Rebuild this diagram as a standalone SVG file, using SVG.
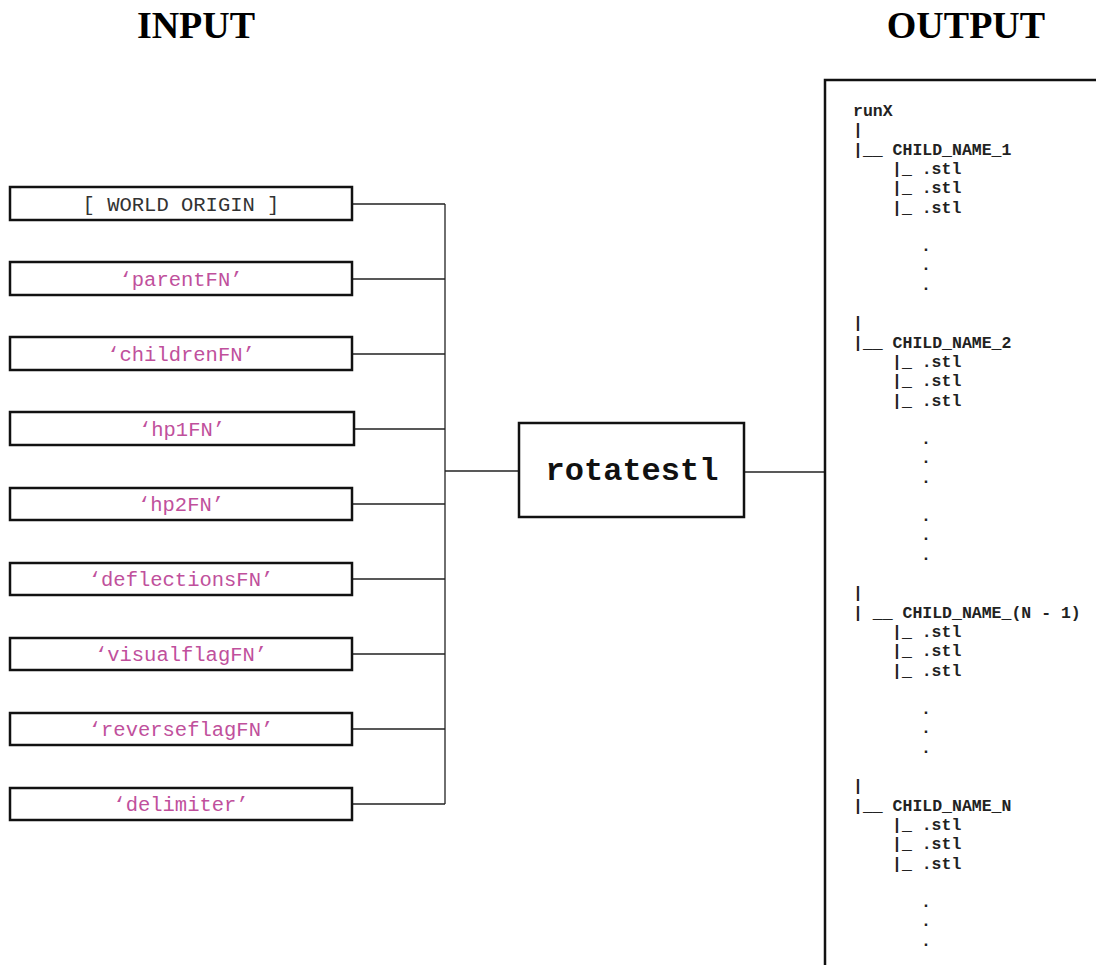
<svg xmlns="http://www.w3.org/2000/svg" width="1096" height="965" viewBox="0 0 1096 965">
  <style>
    .title { font-family: "Liberation Serif", "Times New Roman", serif; font-weight: bold; font-size: 38px; fill: #000; text-anchor: middle; }
    .box { fill: #fff; stroke: #111; stroke-width: 2.5; }
    .arg { font-family: "Liberation Mono", "Courier New", monospace; font-size: 20.5px; fill: #c0509c; text-anchor: middle; }
    .origin { fill: #333; }
    .fn { font-family: "Liberation Mono", "Courier New", monospace; font-weight: bold; font-size: 32px; fill: #111; text-anchor: middle; }
    .wire { fill: none; stroke: #222; stroke-width: 1.3; }
    .tree { font-family: "Liberation Mono", "Courier New", monospace; font-weight: bold; font-size: 16.5px; fill: #222; }
  </style>

  <rect width="1096" height="965" fill="#fff"/>

  <text class="title" x="196" y="38">INPUT</text>
  <text class="title" x="966" y="38">OUTPUT</text>

  <!-- wiring from the arguments into the function and on to the output -->
  <g id="connectors">
    <path class="wire" d="M352 204H445M352 279H445M352 354H445M354 429H445M352 504H445M352 579H445M352 654H445M352 729H445M352 804H445"/>
    <path class="wire" d="M445 204V804"/>
    <path class="wire" d="M445 471H519"/>
    <path class="wire" d="M744 472H825"/>
  </g>

  <!-- input arguments -->
  <g id="arg-origin"><rect class="box" x="10" y="187" width="342" height="33"/><text class="arg origin" x="181" y="211">[ WORLD ORIGIN ]</text></g>
  <g id="arg-parentFN"><rect class="box" x="10" y="262" width="342" height="33"/><text class="arg" x="181" y="286">‘parentFN’</text></g>
  <g id="arg-childrenFN"><rect class="box" x="10" y="337" width="342" height="33"/><text class="arg" x="181" y="361">‘childrenFN’</text></g>
  <g id="arg-hp1FN"><rect class="box" x="10" y="412" width="344" height="33"/><text class="arg" x="182" y="436">‘hp1FN’</text></g>
  <g id="arg-hp2FN"><rect class="box" x="10" y="488" width="342" height="32"/><text class="arg" x="181" y="511">‘hp2FN’</text></g>
  <g id="arg-deflectionsFN"><rect class="box" x="10" y="563" width="342" height="32"/><text class="arg" x="181" y="586">‘deflectionsFN’</text></g>
  <g id="arg-visualflagFN"><rect class="box" x="10" y="638" width="342" height="32"/><text class="arg" x="181" y="661">‘visualflagFN’</text></g>
  <g id="arg-reverseflagFN"><rect class="box" x="10" y="713" width="342" height="32"/><text class="arg" x="181" y="736">‘reverseflagFN’</text></g>
  <g id="arg-delimiter"><rect class="box" x="10" y="788" width="342" height="32"/><text class="arg" x="181" y="811">‘delimiter’</text></g>

  <!-- function -->
  <g id="rotatestl">
    <rect class="box" x="519" y="423" width="225" height="94"/>
    <text class="fn" x="632" y="480">rotatestl</text>
  </g>

  <!-- output folder tree -->
  <g id="output">
    <rect class="box" x="825" y="80" width="300" height="1000"/>
    <g class="tree">
      <text x="853" y="116">runX</text>
      <text x="853" y="135">|</text>
      <text x="853" y="155">|__ CHILD_NAME_1</text>
      <text x="892" y="174">|_ .stl</text>
      <text x="892" y="193">|_ .stl</text>
      <text x="892" y="213">|_ .stl</text>
      <text x="921" y="251">.</text>
      <text x="921" y="270">.</text>
      <text x="921" y="290">.</text>

      <text x="853" y="328">|</text>
      <text x="853" y="348">|__ CHILD_NAME_2</text>
      <text x="892" y="367">|_ .stl</text>
      <text x="892" y="386">|_ .stl</text>
      <text x="892" y="406">|_ .stl</text>
      <text x="921" y="444">.</text>
      <text x="921" y="463">.</text>
      <text x="921" y="483">.</text>
      <text x="921" y="521">.</text>
      <text x="921" y="540">.</text>
      <text x="921" y="560">.</text>

      <text x="853" y="598">|</text>
      <text x="853" y="618">| __ CHILD_NAME_(N - 1)</text>
      <text x="892" y="637">|_ .stl</text>
      <text x="892" y="656">|_ .stl</text>
      <text x="892" y="676">|_ .stl</text>
      <text x="921" y="714">.</text>
      <text x="921" y="733">.</text>
      <text x="921" y="753">.</text>

      <text x="853" y="791">|</text>
      <text x="853" y="811">|__ CHILD_NAME_N</text>
      <text x="892" y="830">|_ .stl</text>
      <text x="892" y="849">|_ .stl</text>
      <text x="892" y="869">|_ .stl</text>
      <text x="921" y="907">.</text>
      <text x="921" y="926">.</text>
      <text x="921" y="946">.</text>
    </g>
  </g>
</svg>
